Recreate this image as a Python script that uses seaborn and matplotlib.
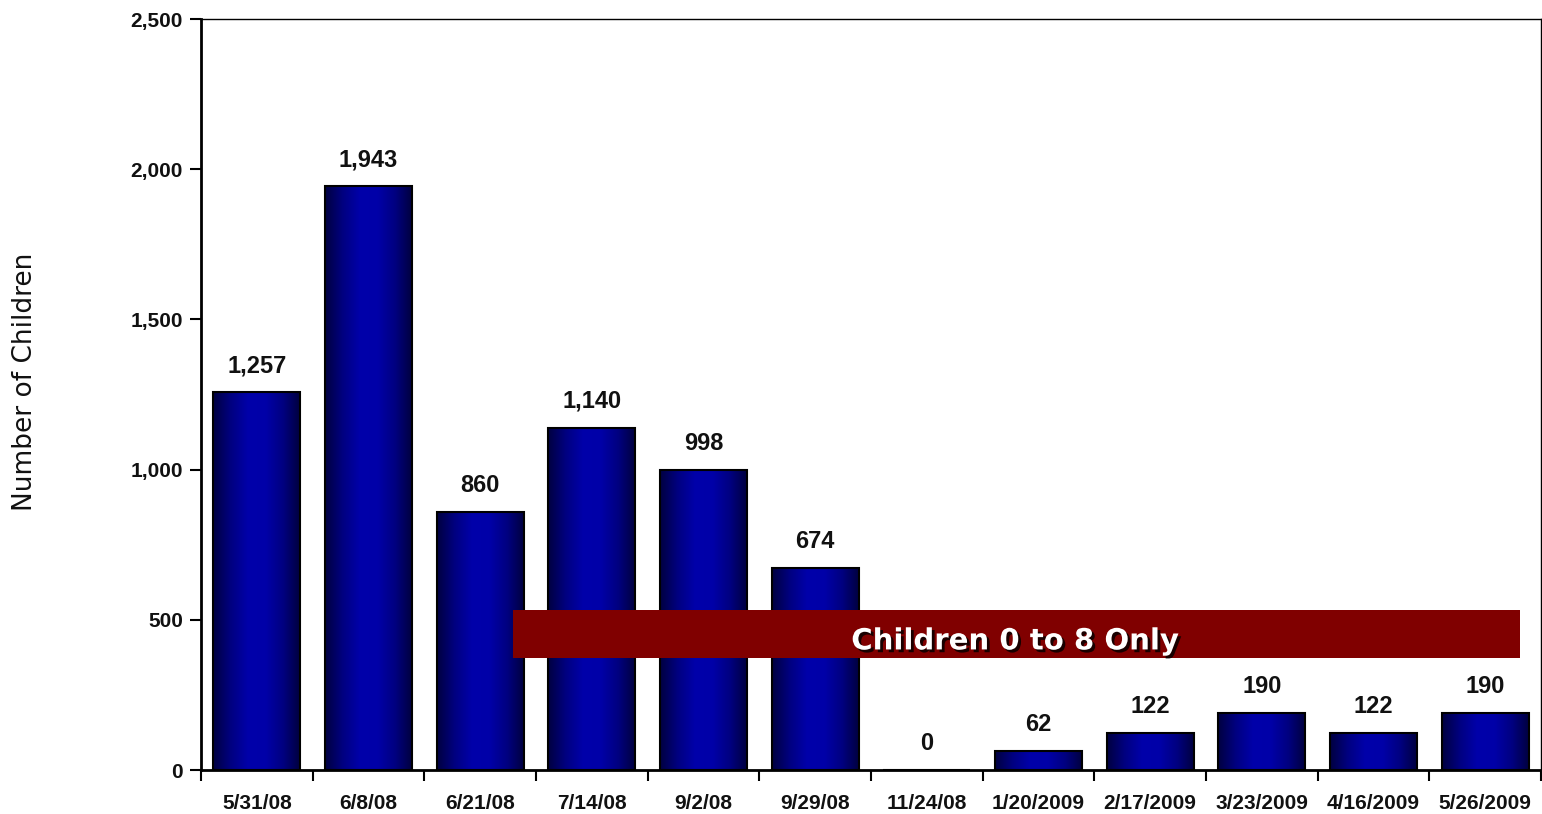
import numpy as np
import matplotlib
matplotlib.use('Agg')
import matplotlib.pyplot as plt
import matplotlib.patheffects as pe
from matplotlib.colors import LinearSegmentedColormap
from matplotlib.patches import Rectangle
from matplotlib.ticker import FuncFormatter, MultipleLocator, FixedLocator
import seaborn as sns

# survey dates and number of children counted
dates = ['5/31/08', '6/8/08', '6/21/08', '7/14/08', '9/2/08', '9/29/08',
         '11/24/08', '1/20/2009', '2/17/2009', '3/23/2009', '4/16/2009', '5/26/2009']
children = [1257, 1943, 860, 1140, 998, 674, 0, 62, 122, 190, 122, 190]
banner_text = 'Children 0 to 8 Only'

sns.set_style('white')
plt.rcParams['font.family'] = ['Liberation Sans', 'DejaVu Sans']

fig, ax = plt.subplots(figsize=(15.42, 8.14), dpi=100)
fig.subplots_adjust(left=201/1542, right=1541/1542, top=1-19/814, bottom=1-770/814)

sns.barplot(x=dates, y=children, color='#0000aa', edgecolor='black',
            linewidth=1.5, width=0.78, ax=ax)

# horizontal dark-blue gradient on each bar
grad = LinearSegmentedColormap.from_list(
    'bar', ['#000040', '#000080', '#0000aa', '#0000a8', '#000080', '#00003c'])
g = np.linspace(0, 1, 256).reshape(1, -1)
for p in ax.patches:
    x0, y0 = p.get_x(), p.get_y()
    w, h = p.get_width(), p.get_height()
    if h <= 0:
        continue
    im = ax.imshow(g, cmap=grad, aspect='auto', extent=(x0, x0 + w, y0, y0 + h),
                   zorder=2)
    im.set_clip_path(p)
    p.set_facecolor('none')
    p.set_zorder(3)

ax.set_xlim(-0.5, len(dates) - 0.5)
ax.set_ylim(0, 2500)

# value labels
for i, v in enumerate(children):
    ax.text(i, v + 50, f'{v:,}', ha='center', va='bottom', fontsize=17,
            fontweight='bold', color='#111111', zorder=5)

# banner
ax.add_patch(Rectangle((2.29, 373), 9.02, 160, facecolor='#800000',
                       edgecolor='none', zorder=4))
ax.text(6.79, 428, banner_text, ha='center', va='center', fontsize=21,
        fontweight='bold', color='white', family='DejaVu Sans', zorder=6,
        path_effects=[pe.withSimplePatchShadow(offset=(2, -2), shadow_rgbFace='black', alpha=0.8)])

# axes styling
ax.yaxis.set_major_locator(MultipleLocator(500))
ax.yaxis.set_major_formatter(FuncFormatter(lambda v, _: f'{int(v):,}'))
ax.xaxis.set_minor_locator(FixedLocator(np.arange(-0.5, len(dates), 1.0)))
ax.tick_params(axis='x', which='major', length=0, pad=17, labelsize=15)
ax.tick_params(axis='x', which='minor', length=8, width=1.5, direction='out',
               bottom=True, color='black')
ax.tick_params(axis='y', length=8, width=1.5, direction='out', left=True,
               pad=5, labelsize=15, color='black')
for lab in ax.get_xticklabels() + ax.get_yticklabels():
    lab.set_fontweight('bold')
    lab.set_color('#111111')

for s in ['left', 'bottom']:
    ax.spines[s].set_linewidth(2)
    ax.spines[s].set_color('black')
for s in ['top', 'right']:
    ax.spines[s].set_linewidth(1)
    ax.spines[s].set_color('black')
    ax.spines[s].set_visible(True)

ax.set_xlabel('')
ax.set_ylabel('Number of Children', fontsize=19, family='DejaVu Sans', color='#111111')
ax.yaxis.set_label_coords(-0.122, 0.517)

fig.savefig('out.png', dpi=100)
